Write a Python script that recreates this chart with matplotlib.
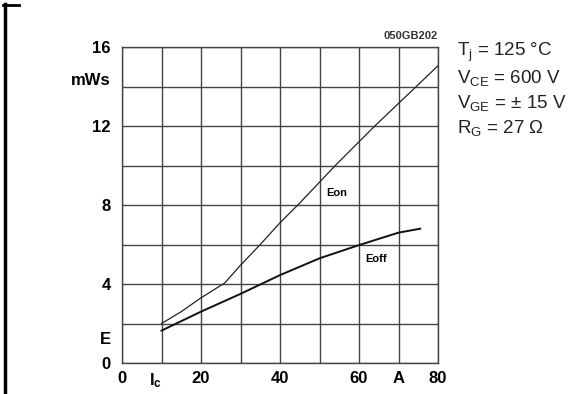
import numpy as np
import matplotlib.pyplot as plt

plt.rcParams['font.family'] = ['Liberation Sans', 'DejaVu Sans']
plt.rcParams['mathtext.fontset'] = 'custom'
plt.rcParams['mathtext.rm'] = 'Liberation Sans'
plt.rcParams['mathtext.it'] = 'Liberation Sans'
plt.rcParams['mathtext.bf'] = 'Liberation Sans:bold'

# switching energy vs collector current
ic_on = [10, 15, 20, 26, 30, 35, 40, 45, 54, 64, 74.5, 80]
e_on = [2.0, 2.6, 3.3, 4.05, 4.95, 6.0, 7.1, 8.1, 10.0, 12.0, 14.0, 15.05]
ic_off = [10, 20, 30, 40, 50, 60, 70, 75.5]
e_off = [1.64, 2.6, 3.5, 4.45, 5.3, 5.97, 6.6, 6.8]

xtick_pos = [0, 8.4, 20, 40, 60, 70, 80]
xtick_lab = ['0', r'$\mathbf{I_c}$', '20', '40', '60', 'A', '80']
ytick_pos = [0, 1.25, 4, 8, 12, 14.4, 16]
ytick_lab = ['0', 'E', '4', '8', '12', 'mWs', '16']
xgrid = np.arange(0, 81, 10)
ygrid = np.arange(0, 17, 2)

fig = plt.figure(figsize=(5.86, 3.94), dpi=100)
ax = fig.add_axes([122/586, 1-363/394, 316/586, 316/394])

ax.vlines(xgrid, 0, 16, color='#444444', lw=1.0, zorder=1)
ax.hlines(ygrid, 0, 80, color='#444444', lw=1.0, zorder=1)

ax.plot(ic_on, e_on, color='#222222', lw=0.9, zorder=3)
ax.plot(ic_off, e_off, color='#111111', lw=1.4, zorder=3)

ax.set_xlim(0, 80)
ax.set_ylim(0, 16)
ax.set_xticks(xtick_pos, xtick_lab)
ax.set_yticks(ytick_pos, ytick_lab)
ax.tick_params(which='both', length=0)
ax.tick_params(axis='x', pad=6)
ax.tick_params(axis='y', pad=8)
for lab in ax.get_xticklabels() + ax.get_yticklabels():
    lab.set_fontweight('bold')
    lab.set_fontsize(12)
for s in ax.spines.values():
    s.set_color('#444444')
    s.set_linewidth(1.0)

ax.text(54.4, 8.6, 'Eon', fontsize=8, fontweight='bold', ha='center', va='center')
ax.text(64.3, 5.27, 'Eoff', fontsize=8, fontweight='bold', ha='center', va='center')
ax.text(80, 16.3, '050GB202', fontsize=8, fontweight='bold', ha='right', va='bottom',
        color='#333333')

conds = [r'T$_\mathregular{j}$ = 125 °C', r'V$_\mathregular{CE}$ = 600 V',
         r'V$_\mathregular{GE}$ = ± 15 V', r'R$_\mathregular{G}$ = 27 Ω']
for i, t in enumerate(conds):
    fig.text(457/586, 1 - (52 + i * 25.5)/394, t, fontsize=13.5, va='center', ha='left',
             color='#222222')

# frame mark on the left edge
fig.add_artist(plt.Line2D([4.5/586, 4.5/586], [0, 1 - 4/394], color='black', lw=2.5,
                          transform=fig.transFigure))
fig.add_artist(plt.Line2D([3/586, 19/586], [1 - 4.5/394, 1 - 4.5/394], color='black', lw=2.0,
                          transform=fig.transFigure))

fig.savefig('out.png', dpi=100)
